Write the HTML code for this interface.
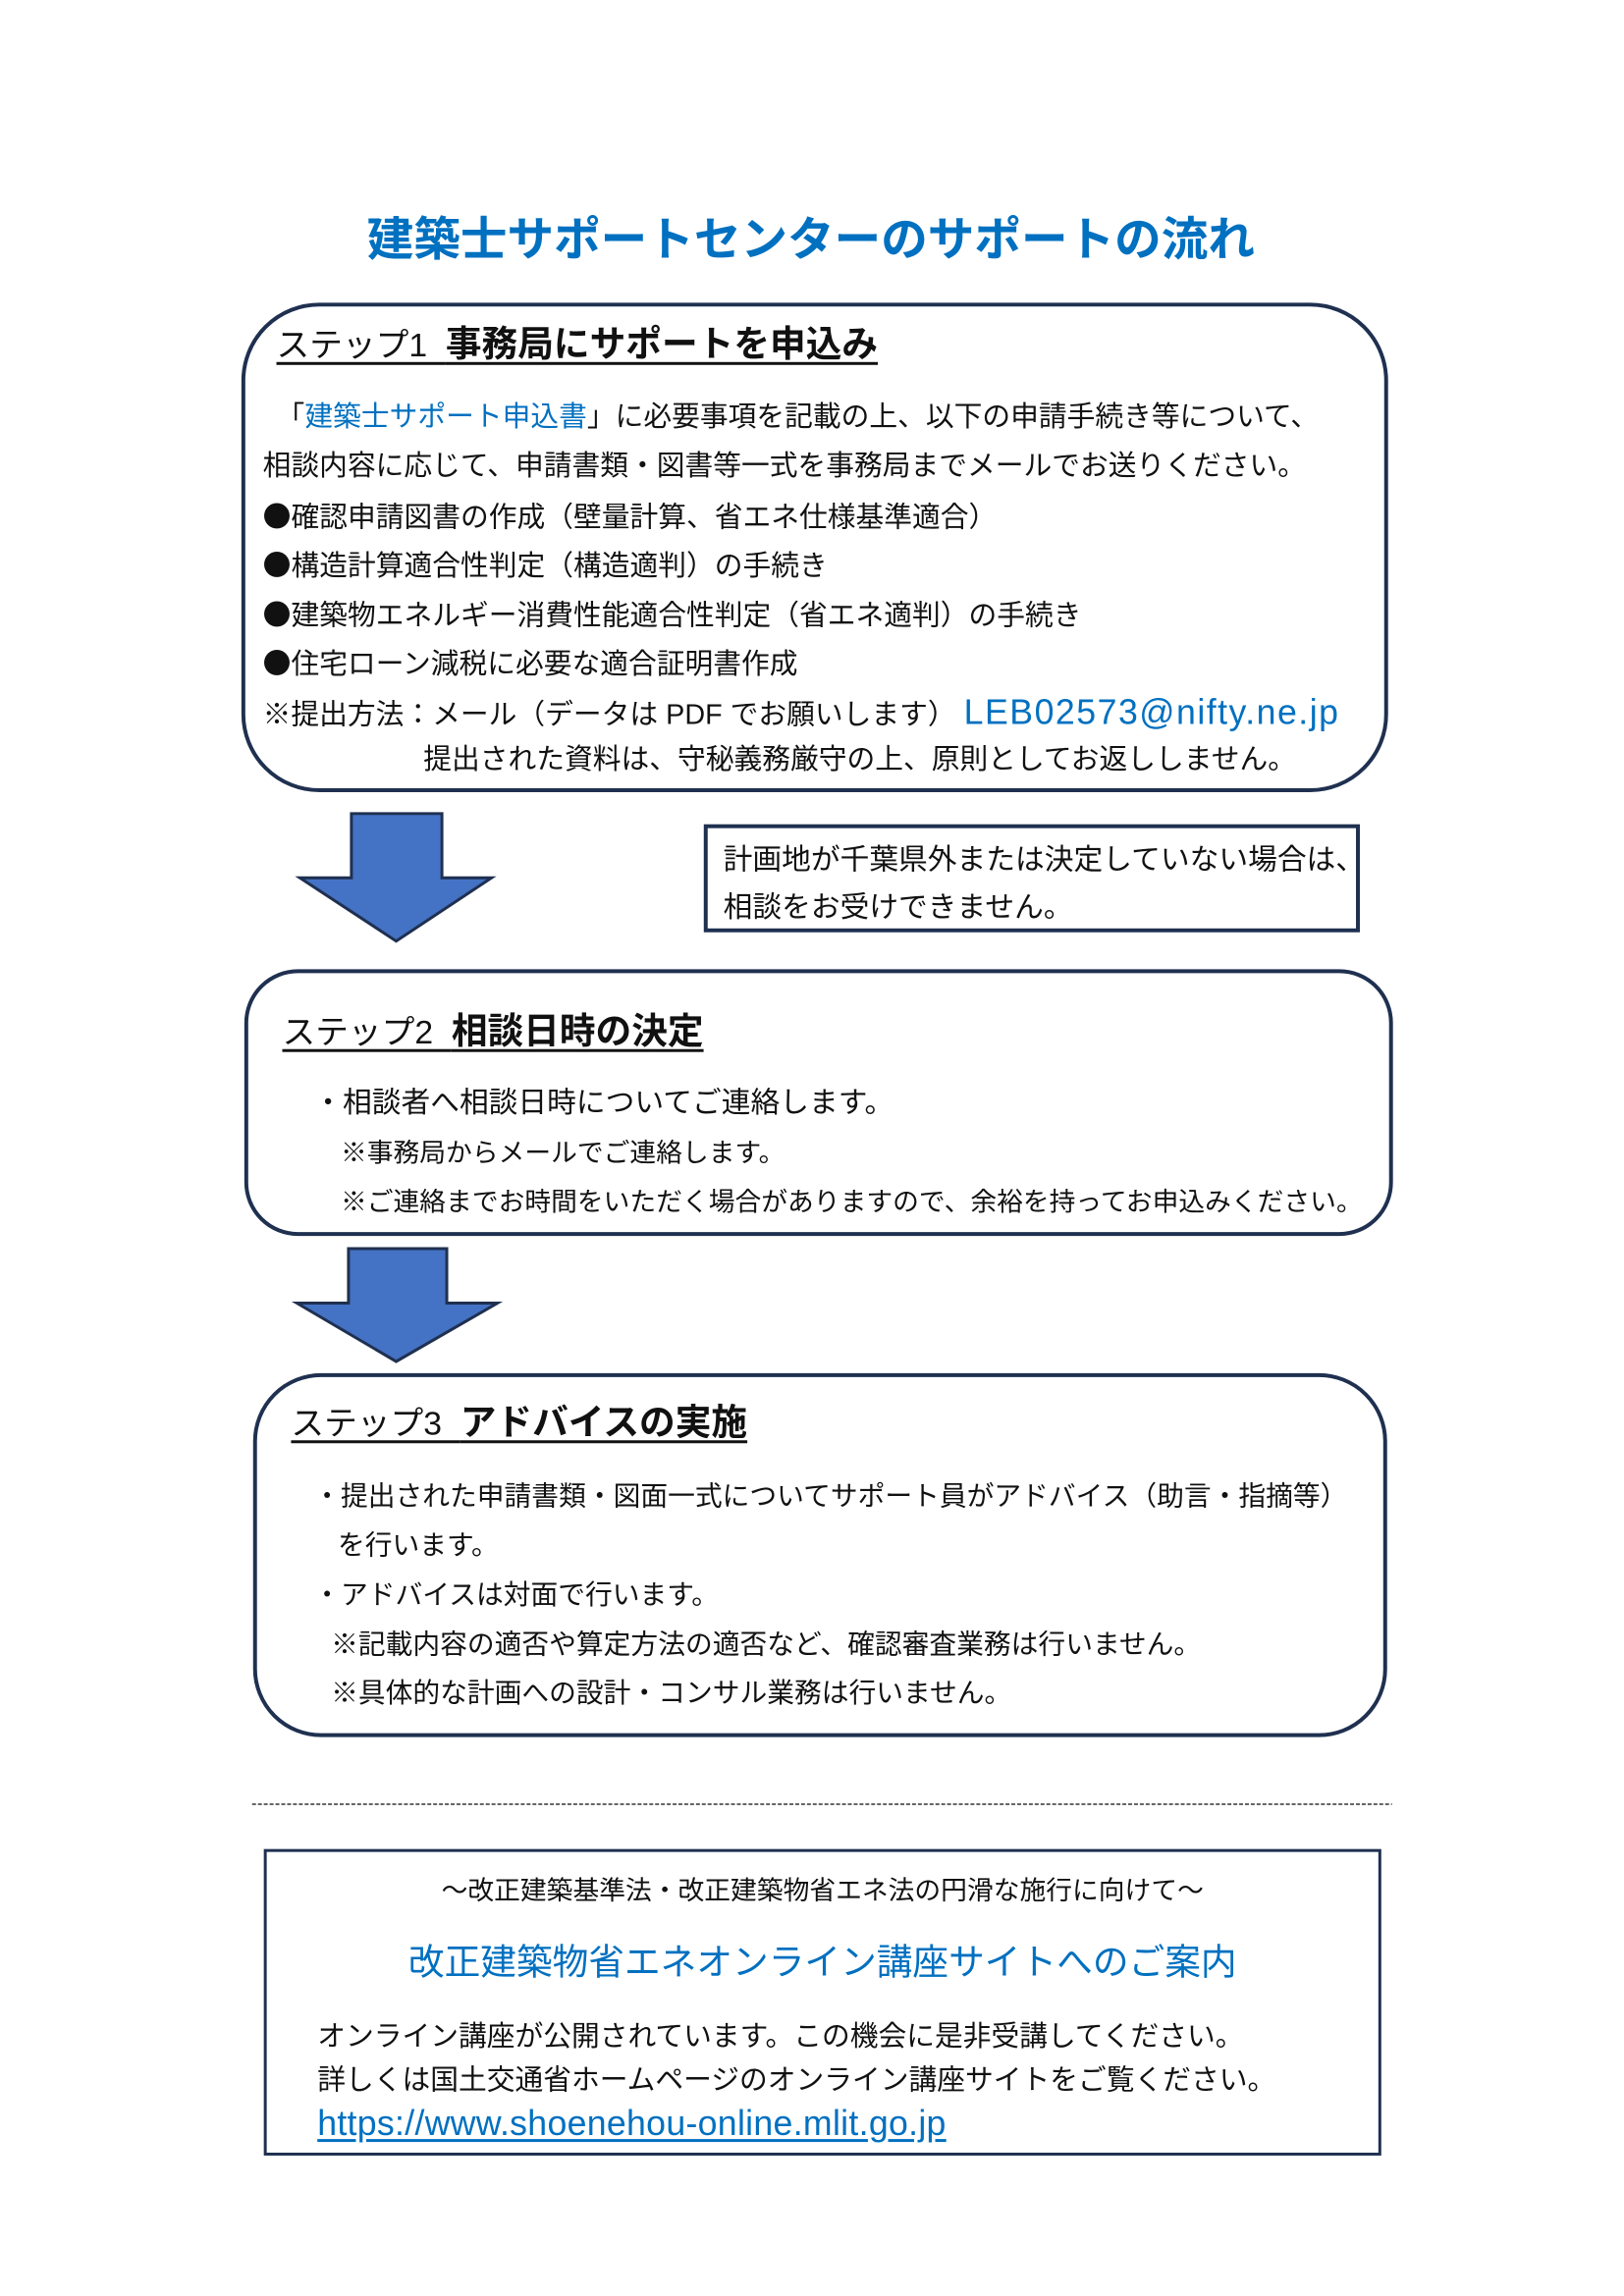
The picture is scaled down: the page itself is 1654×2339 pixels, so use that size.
<!DOCTYPE html>
<html><head><meta charset="utf-8"><style>
body{margin:0;width:1654px;height:2339px;background:#fff;position:relative;font-family:"Liberation Sans","Noto Sans CJK JP",sans-serif;color:#111;overflow:hidden}
#w{position:absolute;left:0;top:0;width:1654px;height:2339px;transform:scale(0.9914);transform-origin:0 0}
.t{position:absolute;white-space:nowrap;line-height:1;margin-top:4px}
.box{position:absolute;border:4px solid #1f3050;box-sizing:border-box}
.blue{color:#0070c0}
.h{text-decoration:underline;text-decoration-thickness:3px;text-underline-offset:6px}
.b{font-family:"Noto Sans CJK JP",sans-serif}
</style></head><body><div id="w">
<div class="t blue" style="left:376px;top:220px;font-size:48px;font-weight:bold;width:914px;text-align:center">建築士サポートセンターのサポートの流れ</div>

<div class="box" style="left:248px;top:311px;width:1178px;height:503px;border-radius:80px"></div>
<div class="t h" style="left:284px;top:331px;font-size:34px">ステップ1&nbsp;&nbsp;<b style="font-size:37px">事務局にサポートを申込み</b></div>
<div class="t" style="left:284px;top:411px;font-size:29px">「<span class="blue">建築士サポート申込書</span>」に必要事項を記載の上、以下の申請手続き等について、</div>
<div class="t" style="left:270px;top:461px;font-size:29px">相談内容に応じて、申請書類・図書等一式を事務局までメールでお送りください。</div>
<div class="t" style="left:270px;top:511px;font-size:29px"><span class="b">●</span>確認申請図書の作成（壁量計算、省エネ仕様基準適合）</div>
<div class="t" style="left:270px;top:561px;font-size:29px"><span class="b">●</span>構造計算適合性判定（構造適判）の手続き</div>
<div class="t" style="left:270px;top:612px;font-size:29px"><span class="b">●</span>建築物エネルギー消費性能適合性判定（省エネ適判）の手続き</div>
<div class="t" style="left:270px;top:662px;font-size:29px"><span class="b">●</span>住宅ローン減税に必要な適合証明書作成</div>
<div class="t" style="left:270px;top:710px;font-size:29px">※提出方法：メール（データは PDF でお願いします） <span class="blue" style="font-size:36px;letter-spacing:1.5px">LEB02573@nifty.ne.jp</span></div>
<div class="t" style="left:435px;top:763px;font-size:29px">提出された資料は、守秘義務厳守の上、原則としてお返ししません。</div>

<svg style="position:absolute;left:0;top:0" width="1654" height="2339">
<polygon points="361,836 454,836 454,902 505,902 407,967 308,902 361,902" fill="#4472c4" stroke="#1f3050" stroke-width="3"/>
<polygon points="358,1283 459,1283 459,1339 511,1339 407,1399 305,1339 358,1339" fill="#4472c4" stroke="#1f3050" stroke-width="3"/>
<line x1="259" y1="1854" x2="1430" y2="1854" stroke="#333" stroke-width="1.5" stroke-dasharray="4,2"/>
</svg>

<div class="box" style="left:723px;top:847px;width:674px;height:111px"></div>
<div class="t" style="left:743px;top:865px;font-size:30px">計画地が千葉県外または決定していない場合は、</div>
<div class="t" style="left:743px;top:914px;font-size:30px">相談をお受けできません。</div>

<div class="box" style="left:251px;top:996px;width:1180px;height:274px;border-radius:55px"></div>
<div class="t h" style="left:290px;top:1037px;font-size:34px">ステップ2&nbsp;&nbsp;<b style="font-size:37px">相談日時の決定</b></div>
<div class="t" style="left:322px;top:1115px;font-size:30px">・相談者へ相談日時についてご連絡します。</div>
<div class="t" style="left:350px;top:1168px;font-size:27px">※事務局からメールでご連絡します。</div>
<div class="t" style="left:350px;top:1218px;font-size:27px">※ご連絡までお時間をいただく場合がありますので、余裕を持ってお申込みください。</div>

<div class="box" style="left:260px;top:1411px;width:1165px;height:374px;border-radius:70px"></div>
<div class="t h" style="left:299px;top:1439px;font-size:34px">ステップ3&nbsp;&nbsp;<b style="font-size:37px">アドバイスの実施</b></div>
<div class="t" style="left:322px;top:1520px;font-size:28px">・提出された申請書類・図面一式についてサポート員がアドバイス（助言・指摘等）</div>
<div class="t" style="left:347px;top:1570px;font-size:28px">を行います。</div>
<div class="t" style="left:322px;top:1621px;font-size:28px">・アドバイスは対面で行います。</div>
<div class="t" style="left:340px;top:1672px;font-size:28px">※記載内容の適否や算定方法の適否など、確認審査業務は行いません。</div>
<div class="t" style="left:340px;top:1722px;font-size:28px">※具体的な計画への設計・コンサル業務は行いません。</div>

<div class="box" style="left:271px;top:1900px;width:1148px;height:315px;border-width:3px"></div>
<div class="t" style="left:271px;top:1926px;width:1148px;text-align:center;font-size:27px">～改正建築基準法・改正建築物省エネ法の円滑な施行に向けて～</div>
<div class="t blue" style="left:271px;top:1994px;width:1148px;text-align:center;font-size:37px">改正建築物省エネオンライン講座サイトへのご案内</div>
<div class="t" style="left:326px;top:2075px;font-size:29px">オンライン講座が公開されています。この機会に是非受講してください。</div>
<div class="t" style="left:326px;top:2120px;font-size:29px">詳しくは国土交通省ホームページのオンライン講座サイトをご覧ください。</div>
<div class="t blue" style="left:326px;top:2160px;font-size:36px;letter-spacing:0.3px;text-decoration:underline;text-underline-offset:4px">https://www.shoenehou-online.mlit.go.jp</div>
</div></body></html>
